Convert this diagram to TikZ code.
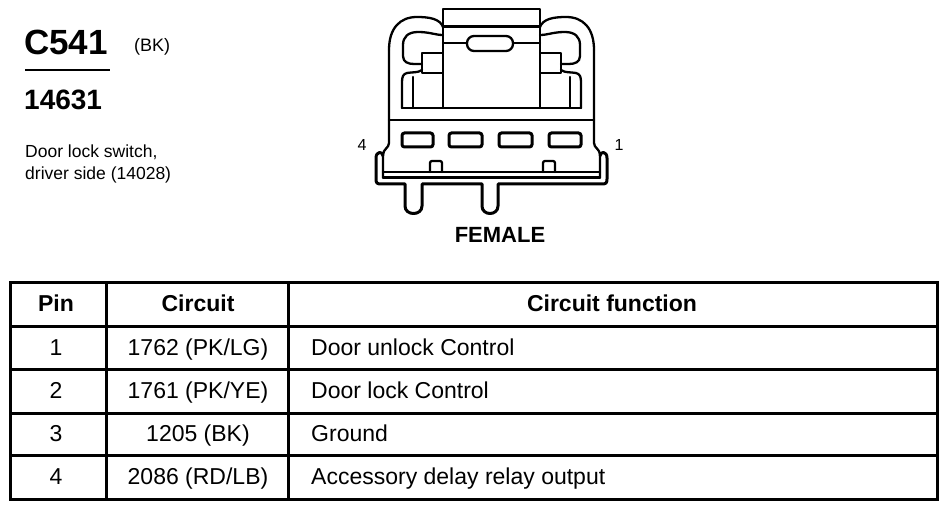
\documentclass[tikz,border=0pt]{standalone}
\usepackage{fontspec}
\setmainfont{Liberation Sans}
\newcommand\fsz[1]{\fontsize{#1}{#1}\selectfont}
\newcommand\halfshell{%
  % outer top curve
  \draw[wall] (389,50) .. controls (389,28) and (400,17) .. (417,17)
     .. controls (430,17) and (440,19) .. (443,27);
  % upper hook
  \draw[wall] (443,35) .. controls (435,35) and (430,32) .. (418,32)
     .. controls (408,32) and (403,37) .. (403,45) -- (403,56)
     .. controls (403,62) and (408,64) .. (414,64) -- (422,64);
  % tab
  \draw[wall] (422,53) rectangle (443,73);
  % lower tab
  \draw[wall] (422,70) .. controls (418,73) and (412,72) .. (407,73)
     .. controls (403,74) and (402,77) .. (402,82) -- (402,108);
  \draw[wall] (413,77) -- (413,108);
  % side wall
  \draw[wall] (389,50) -- (389,143) .. controls (389,148) and (383,149) .. (383,155) -- (383,178);
}
\tikzset{
  wall/.style={line width=2.3pt, line join=round, line cap=round},
  heavy/.style={line width=3pt, line join=round},
  slot/.style={line width=3pt, rounded corners=2.5pt},
  grid/.style={line width=3pt},
  txt/.style={inner sep=0pt, font=\fsz{23}},
  hdr/.style={inner sep=0pt, font=\bfseries\fsz{23}},
}
\begin{document}
\begin{tikzpicture}[x=1pt,y=-1pt]
\useasboundingbox (0,0) rectangle (947,510);
% ---------- title block ----------
\node[inner sep=0pt, anchor=base west, font=\bfseries\fsz{35}] (conn) at (24,55) {C541};
\node[inner sep=0pt, anchor=base west, font=\fsz{18}] (col) at (134,52) {(BK)};
\draw[line width=1.5pt] (25,70) coordinate (ula) -- (110,70) coordinate (ulb);
\node[inner sep=0pt, anchor=base west, font=\bfseries\fsz{28}] (part) at (24,110) {14631};
\node[inner sep=0pt, anchor=base west, font=\fsz{17.5}] (desc1) at (25,158) {Door lock switch,};
\node[inner sep=0pt, anchor=base west, font=\fsz{17.5}] (desc2) at (25,180) {driver side (14028)};
% ---------- connector ----------
\halfshell
\begin{scope}[xshift=983pt, xscale=-1]
\halfshell
\end{scope}
% central box
\draw[wall] (443,108) -- (443,9) -- (540,9) -- (540,108);
\draw[heavy] (443,27) -- (540,27);
\draw[wall] (443,43) -- (467,43);
\draw[wall] (513,43) -- (540,43);
\draw[wall, rounded corners=7pt] (467,36) rectangle (513,51);
\draw[wall] (402,108) -- (581,108);
\draw[wall] (389,120) -- (594,120);
% pin slots
\draw[slot] (402,133) rectangle (433,147);
\draw[slot] (449,133) rectangle (482,147);
\draw[slot] (499,133) rectangle (532,147);
\draw[slot] (549,133) rectangle (581,147);
% base lines
\draw[wall] (383,172) -- (600,172);
\draw[heavy] (383,178) -- (600,178);
% latches
\draw[wall, rounded corners=2pt] (430,172) -- (430,161) -- (442,161) -- (442,172);
\draw[wall, rounded corners=2pt] (543,172) -- (543,161) -- (555,161) -- (555,172);
% outer tray with legs
\draw[heavy] (383,156) .. controls (383,151) and (376,151) .. (376,158) -- (376,179)
  .. controls (376,183) and (377,184) .. (381,184) -- (405,184) -- (405,206)
  .. controls (405,216) and (422,216) .. (422,206) -- (422,184) -- (482,184) -- (482,206)
  .. controls (482,216) and (498,216) .. (498,206) -- (498,184) -- (602,184)
  .. controls (606,184) and (607,183) .. (607,179) -- (607,158)
  .. controls (607,151) and (600,151) .. (600,156);
\node[inner sep=0pt, font=\fsz{16}] (p4) at (362,145) {4};
\node[inner sep=0pt, font=\fsz{16}] (p1) at (619,145) {1};
\node[inner sep=0pt, anchor=base, font=\bfseries\fsz{22}] (fem) at (500,243) {FEMALE};
% ---------- table ----------
\draw[grid] (10,283) rectangle (937,499);
\foreach \yy in {327,369,413,455} \draw[grid] (10,\yy) -- (937,\yy);
\draw[grid] (106,283) -- (106,499);
\draw[grid] (288,283) -- (288,499);
\node[hdr, anchor=base] (hpin) at (56,312) {Pin};
\node[hdr, anchor=base] (hcir) at (198,312) {Circuit};
\node[hdr, anchor=base] (hfun) at (612,312) {Circuit function};
\node[txt, anchor=base] (r1a) at (56,355) {1};
\node[txt, anchor=base] (r1b) at (198,355) {1762 (PK/LG)};
\node[txt, anchor=base west] (r1c) at (311,355) {Door unlock Control};
\node[txt, anchor=base] (r2a) at (56,398) {2};
\node[txt, anchor=base] (r2b) at (198,398) {1761 (PK/YE)};
\node[txt, anchor=base west] (r2c) at (311,398) {Door lock Control};
\node[txt, anchor=base] (r3a) at (56,441) {3};
\node[txt, anchor=base] (r3b) at (198,441) {1205 (BK)};
\node[txt, anchor=base west] (r3c) at (311,441) {Ground};
\node[txt, anchor=base] (r4a) at (56,484) {4};
\node[txt, anchor=base] (r4b) at (198,484) {2086 (RD/LB)};
\node[txt, anchor=base west] (r4c) at (311,484) {Accessory delay relay output};
\end{tikzpicture}
\end{document}
